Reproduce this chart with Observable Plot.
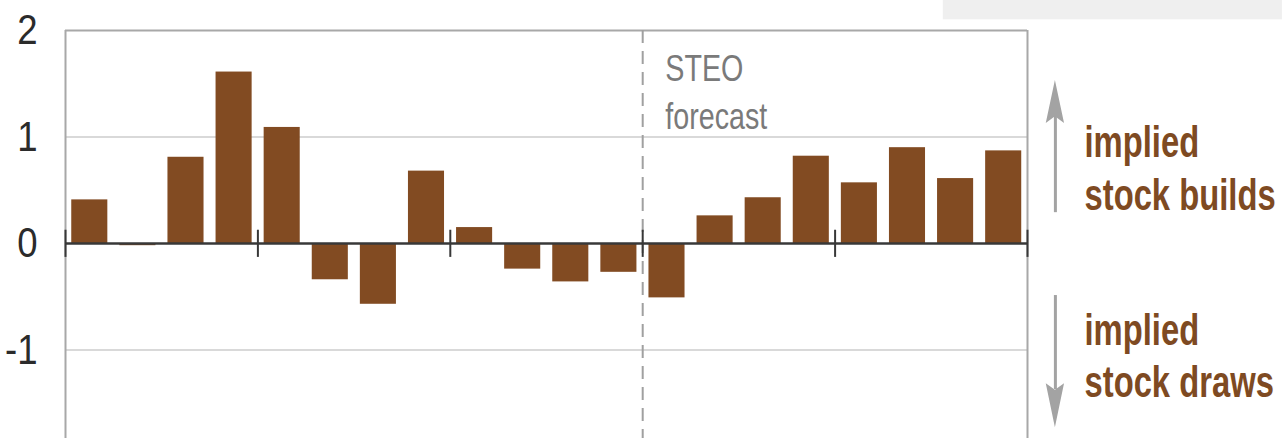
<!DOCTYPE html>
<html>
<head>
<meta charset="utf-8">
<script src="https://cdn.jsdelivr.net/npm/d3@7"></script>
<script src="https://cdn.jsdelivr.net/npm/@observablehq/plot@0.6"></script>
<style>
  html, body { margin: 0; padding: 0; background: #fff; overflow: hidden; }
  #chart { width: 1288px; height: 438px; }
</style>
</head>
<body>
<div id="chart"></div>
<script>
// Quarterly periods (5 years x 4 quarters); last 8 are the STEO forecast
const periods = [
  "Y1 Q1","Y1 Q2","Y1 Q3","Y1 Q4",
  "Y2 Q1","Y2 Q2","Y2 Q3","Y2 Q4",
  "Y3 Q1","Y3 Q2","Y3 Q3","Y3 Q4",
  "Y4 Q1","Y4 Q2","Y4 Q3","Y4 Q4",
  "Y5 Q1","Y5 Q2","Y5 Q3","Y5 Q4"
];
// Implied stock change (builds positive, draws negative)
const values = [
  0.41, -0.02, 0.81, 1.61,
  1.09, -0.34, -0.57, 0.68,
  0.15, -0.24, -0.36, -0.27,
  -0.51, 0.26, 0.43, 0.82,
  0.57, 0.90, 0.61, 0.87
];
const yTicks = [-2, -1, 0, 1, 2];
const gridValues = [-1, 1];
const yearBoundaries = [0, 4, 8, 12, 16, 20];
const forecastStart = 12;
const forecastLabel = "STEO\nforecast";
const buildLabel = "implied\nstock builds";
const drawLabel = "implied\nstock draws";

const data = periods.map((p, i) => ({period: p, i, value: values[i]}));

const BROWN = "#824b22";
const LABEL_BROWN = "#7e4a22";
const ARROW = "#a3a3a3";
const FONT = "'Liberation Sans', Arial, Helvetica, sans-serif";

// arrow geometry (in data units, outside the frame on the right)
const ax = 20.58, hw = 0.19;
const upHead = [
  {x: ax - hw, y1: 1.127, y2: 1.127},
  {x: ax,      y1: 1.19,  y2: 1.53},
  {x: ax + hw, y1: 1.127, y2: 1.127}
];
const downHead = [
  {x: ax - hw, y1: -1.315, y2: -1.315},
  {x: ax,      y1: -1.378, y2: -1.728},
  {x: ax + hw, y1: -1.315, y2: -1.315}
];

const plot = Plot.plot({
  width: 1288,
  height: 438,
  marginLeft: 65,
  marginRight: 261,
  marginTop: 30,
  marginBottom: 0,
  style: {fontFamily: FONT, fontSize: "43px", color: "#2b2b2b", background: "#fff", overflow: "hidden"},
  x: {domain: [0, 20], axis: null},
  y: {domain: [-1.83, 2], axis: "left", ticks: yTicks, tickSize: 0, tickPadding: 28, tickFormat: d => `${d}`, label: null},
  marks: [
    // cropped legend box at top right
    Plot.rect([0], {x1: 18.25, x2: 25.3, y1: 2.10, y2: 2.35, fill: "#efefef"}),
    Plot.ruleY(gridValues, {stroke: "#d9d9d9", strokeWidth: 2}),
    Plot.ruleY([2], {stroke: "#a8a8a8", strokeWidth: 2}),
    Plot.ruleX([0, 20], {stroke: "#a8a8a8", strokeWidth: 2}),
    Plot.ruleX([forecastStart], {stroke: "#a0a0a0", strokeWidth: 2, strokeDasharray: "13,8"}),
    Plot.rectY(data, {x1: d => d.i + 0.13, x2: d => d.i + 0.88, y: "value", fill: BROWN}),
    Plot.ruleY([0], {stroke: "#383838", strokeWidth: 2.5}),
    Plot.ruleX(yearBoundaries, {y1: 0.125, y2: -0.13, stroke: "#383838", strokeWidth: 2}),
    Plot.text([forecastLabel], {x: 12.47, y: 1.85, text: d => d, textAnchor: "start", lineAnchor: "top", lineHeight: 1.3, fontSize: 37, fill: "#7a7a7a"}),
    // arrows
    Plot.ruleX([ax], {y1: 0.29, y2: 1.2, stroke: ARROW, strokeWidth: 3}),
    Plot.areaY(upHead, {x: "x", y1: "y1", y2: "y2", fill: ARROW}),
    Plot.ruleX([ax], {y1: -0.488, y2: -1.37, stroke: ARROW, strokeWidth: 3}),
    Plot.areaY(downHead, {x: "x", y1: "y1", y2: "y2", fill: ARROW}),
    Plot.text([buildLabel], {x: 21.185, y: 1.16, text: d => d, textAnchor: "start", lineAnchor: "top", lineHeight: 1.2, fontSize: 44, fontWeight: "bold", fill: LABEL_BROWN}),
    Plot.text([drawLabel], {x: 21.185, y: -0.596, text: d => d, textAnchor: "start", lineAnchor: "top", lineHeight: 1.2, fontSize: 44, fontWeight: "bold", fill: LABEL_BROWN})
  ]
});

// Narrow the typeface horizontally (reference uses a condensed sans)
function squeeze(textEl, s) {
  const xAttr = textEl.getAttribute("x");
  const xv = xAttr !== null && isFinite(parseFloat(xAttr)) && !/em/.test(xAttr) ? parseFloat(xAttr) : 0;
  const tr = textEl.getAttribute("transform") || "";
  textEl.setAttribute("transform", `${tr} translate(${xv},0) scale(${s},1) translate(${-xv},0)`.trim());
}
plot.querySelectorAll("text").forEach(t => {
  const p = t.parentNode;
  const fw = t.getAttribute("font-weight") || (p && p.getAttribute && p.getAttribute("font-weight"));
  const fs = +(t.getAttribute("font-size") || (p && p.getAttribute && p.getAttribute("font-size")) || 43);
  if (fw === "bold") squeeze(t, 0.745);
  else if (fs === 37) squeeze(t, 0.775);
  else squeeze(t, 0.85);
});

document.getElementById("chart").appendChild(plot);
</script>
</body>
</html>
